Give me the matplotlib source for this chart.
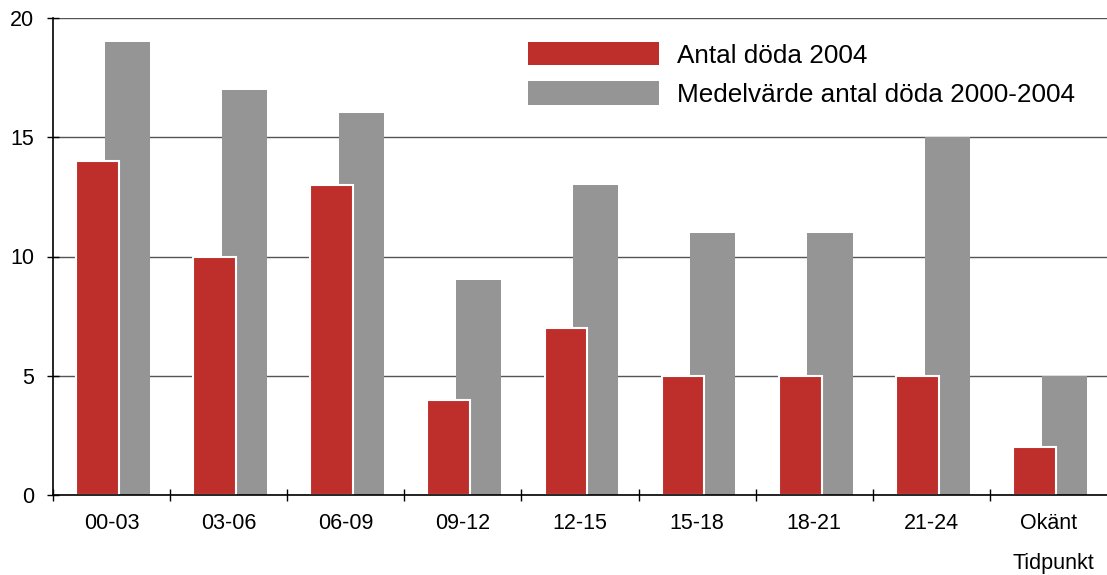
import matplotlib
matplotlib.use("Agg")
import matplotlib.pyplot as plt
from matplotlib.patches import Patch
import numpy as np

categories = ["00-03", "03-06", "06-09", "09-12", "12-15", "15-18", "18-21", "21-24", "Okänt"]
deaths_2004 = [14, 10, 13, 4, 7, 5, 5, 5, 2]
mean_2000_2004 = [19, 17, 16, 9, 13, 11, 11, 15, 5]
series_labels = ["Antal döda 2004", "Medelvärde antal döda 2000-2004"]
x_label = "Tidpunkt"

RED = "#BE2F2C"
GREY = "#959595"

plt.rcParams['font.family'] = ['Liberation Sans', 'DejaVu Sans']

fig = plt.figure(figsize=(11.07, 5.75), dpi=100)
ax = fig.add_axes([53 / 1107, 1 - 495 / 575, 1054 / 1107, 477 / 575])

x = np.arange(len(categories))
ax.bar(x + 0.135, mean_2000_2004, width=0.385, color=GREY, zorder=2, linewidth=0)
ax.bar(x - 0.12, deaths_2004, width=0.365, color=RED, edgecolor="white", linewidth=1.5, zorder=3)

ax.set_xlim(-0.5, len(categories) - 0.5)
ax.set_ylim(0, 20)
ax.set_yticks([0, 5, 10, 15, 20])
ax.yaxis.grid(True, color="#555555", linewidth=1.0, zorder=1)
ax.set_axisbelow(True)

for s in ["right", "top"]:
    ax.spines[s].set_visible(False)
for s in ["bottom", "left"]:
    ax.spines[s].set_color("black")
    ax.spines[s].set_linewidth(1.2)
    ax.spines[s].set_zorder(4)

ax.set_xticks(x)
ax.set_xticklabels(categories, fontsize=15.5)
ax.tick_params(axis="x", which="major", length=0, pad=13)
ax.set_xticks(np.append(-0.5, x[:-1] + 0.5), minor=True)
ax.tick_params(axis="x", which="minor", length=8, direction="inout", width=1, color="black")
ax.tick_params(axis="y", length=8.5, direction="inout", width=1, color="black", pad=9.5, labelsize=15.5)

fig.text(1053.5 / 1107, 1 - 563 / 575, x_label, ha="center", va="center", fontsize=15.5)

handles = [Patch(facecolor=RED, edgecolor="none"), Patch(facecolor=GREY, edgecolor="none")]
ax.legend(handles, series_labels, loc="upper left", bbox_to_anchor=(528 / 1107, 1 - 42 / 575),
          bbox_transform=fig.transFigure, frameon=False, fontsize=18.8,
          handlelength=5.0, handleheight=1.0, labelspacing=0.52, handletextpad=0.7,
          borderaxespad=0, borderpad=0)

fig.savefig("out.png", dpi=100)
